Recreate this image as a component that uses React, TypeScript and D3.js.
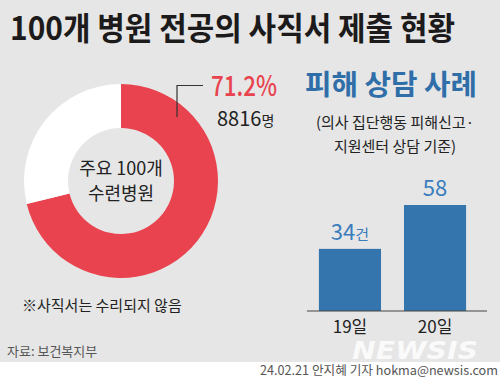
import React from "react";
import * as d3 from "d3";

const W = 500;
const H = 380;

const titleText = "100개 병원 전공의 사직서 제출 현황";
const donutLabels = ["사직서 제출", "미제출"];
const donutValues = [71.2, 28.8];
const donutPctLabel = "71.2%";
const donutCountValue = "8816";
const donutCountUnit = "명";
const donutCenterLines = ["주요 100개", "수련병원"];
const donutNote = "※사직서는 수리되지 않음";

const barTitle = "피해 상담 사례";
const barSubLines = ["(의사 집단행동 피해신고·", "지원센터 상담 기준)"];
const barCategories = ["19일", "20일"];
const barValues = [34, 58];
const barUnits = ["건", ""];

const sourceText = "자료: 보건복지부";
const creditText = "24.02.21 안지혜 기자 hokma@newsis.com";

const KR = "'Noto Sans CJK KR', 'Noto Sans', sans-serif";
const RED = "#e8434e";
const BLUE = "#3575ae";
const BLUE_TXT = "#3a7dbd";
const BG = "#e6e6e6";

export default function App() {
  const cx = 121;
  const cy = 181;
  const pie = d3.pie<number>().sort(null).value((d) => d)(donutValues);
  const arc = d3.arc<d3.PieArcDatum<number>>().innerRadius(53).outerRadius(97);
  const colors = [RED, "#ffffff"];

  const x = d3
    .scaleBand<string>()
    .domain(barCategories)
    .range([307, 478])
    .paddingInner(0.27)
    .paddingOuter(0.14);
  const y = d3.scaleLinear().domain([0, 58]).range([311, 205]);

  return (
    <svg
      width={W}
      height={H}
      style={{ position: "absolute", left: 0, top: 0, display: "block" }}
    >
      <rect x={0} y={0} width={W} height={362} fill={BG} />
      <rect x={0} y={362} width={W} height={H - 362} fill="#ffffff" />

      <text
        x={10}
        y={40}
        fontFamily={KR}
        fontWeight={700}
        fontSize={32}
        fill="#1c1a1a"
        textLength={445}
        lengthAdjust="spacingAndGlyphs"
      >
        {titleText}
      </text>

      <g transform={`translate(${cx},${cy})`}>
        {pie.map((p, i) => (
          <path key={donutLabels[i]} d={arc(p) || ""} fill={colors[i]} />
        ))}
        {donutCenterLines.map((t, i) => (
          <text
            key={t}
            x={0}
            y={-6 + i * 25}
            textAnchor="middle"
            fontFamily={KR}
            fontSize={18}
            fill="#222"
          >
            {t}
          </text>
        ))}
      </g>

      <polyline
        points="177,117 177,85.5 203,85.5"
        fill="none"
        stroke="#333"
        strokeWidth={1.2}
      />
      <text
        x={211}
        y={96}
        fontFamily={KR}
        fontWeight={500}
        fontSize={28}
        fill={RED}
        textLength={66}
        lengthAdjust="spacingAndGlyphs"
      >
        {donutPctLabel}
      </text>
      <text x={217} y={126} fontFamily={KR} fontSize={20} fill="#222">
        {donutCountValue}
        <tspan fontSize={14}>{donutCountUnit}</tspan>
      </text>

      <text x={22} y={311} fontFamily={KR} fontSize={15} fill="#222">
        {donutNote}
      </text>

      <text
        x={305}
        y={95}
        fontFamily={KR}
        fontWeight={700}
        fontSize={28}
        fill="#2f6ea8"
        textLength={172}
        lengthAdjust="spacingAndGlyphs"
      >
        {barTitle}
      </text>
      {barSubLines.map((t, i) => (
        <text
          key={t}
          x={395}
          y={128 + i * 24}
          textAnchor="middle"
          fontFamily={KR}
          fontSize={15}
          fill="#222"
        >
          {t}
        </text>
      ))}

      {barCategories.map((c, i) => (
        <g key={c}>
          <rect
            x={x(c)}
            y={y(barValues[i])}
            width={x.bandwidth()}
            height={y(0) - y(barValues[i])}
            fill={BLUE}
          />
          <text
            x={(x(c) || 0) + x.bandwidth() / 2}
            y={y(barValues[i]) - 9}
            textAnchor="middle"
            fontFamily={KR}
            fontSize={22}
            fill={BLUE_TXT}
          >
            {barValues[i]}
            {barUnits[i] ? <tspan fontSize={15}>{barUnits[i]}</tspan> : null}
          </text>
          <text
            x={(x(c) || 0) + x.bandwidth() / 2}
            y={333}
            textAnchor="middle"
            fontFamily={KR}
            fontSize={17}
            fill="#222"
          >
            {c}
          </text>
        </g>
      ))}
      <line x1={307} x2={487} y1={y(0)} y2={y(0)} stroke="#444" strokeWidth={1} />

      <text
        x={352}
        y={359}
        fontFamily="'DejaVu Sans', sans-serif"
        fontWeight={700}
        fontStyle="italic"
        fontSize={24}
        fill="#ffffff"
        opacity={0.8}
        textLength={126}
        lengthAdjust="spacingAndGlyphs"
      >
        NEWSIS
      </text>

      <text x={7} y={356} fontFamily={KR} fontSize={13} fill="#555">
        {sourceText}
      </text>
      <text
        x={498}
        y={375}
        textAnchor="end"
        fontFamily={KR}
        fontSize={12.5}
        fill="#555"
        textLength={238}
        lengthAdjust="spacingAndGlyphs"
      >
        {creditText}
      </text>
    </svg>
  );
}
